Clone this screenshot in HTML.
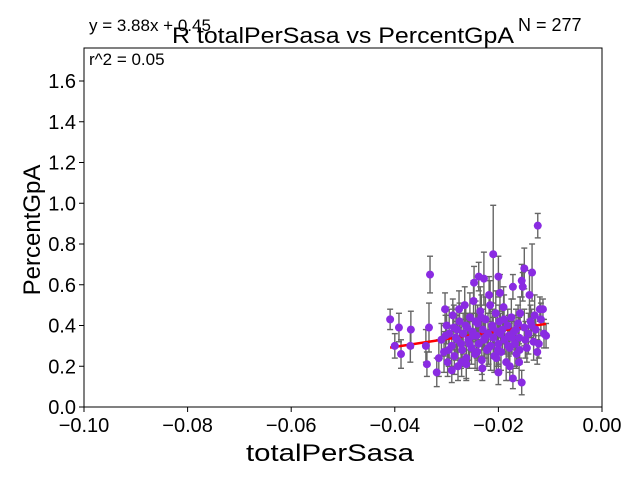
<!DOCTYPE html>
<html><head><meta charset="utf-8"><style>
html,body{margin:0;padding:0;background:#fff;}
svg text{font-family:"Liberation Sans","DejaVu Sans",sans-serif;}
</style></head><body>
<svg id="chart" width="640" height="480" xmlns="http://www.w3.org/2000/svg">
<rect width="640" height="480" fill="#fff"/>
<g id="plot"></g>
<rect x="84" y="48" width="518" height="359" fill="none" stroke="#000" stroke-width="1"/>
<g id="axes"></g>
<text x="343" y="43" font-size="22" text-anchor="middle" textLength="342" lengthAdjust="spacingAndGlyphs">R totalPerSasa vs PercentGpA</text>
<text x="89" y="31" font-size="17">y = 3.88x + 0.45</text>
<text x="89" y="65" font-size="17">r^2 = 0.05</text>
<text x="518" y="31" font-size="18">N = 277</text>
<text x="330" y="461" font-size="24" text-anchor="middle" textLength="168" lengthAdjust="spacingAndGlyphs">totalPerSasa</text>
<text transform="translate(40,230) rotate(-90)" font-size="24" text-anchor="middle">PercentGpA</text>
</svg>
<script>
const xTicks = [-0.10,-0.08,-0.06,-0.04,-0.02,0.00];
const xTickLabels = ["\u22120.10","\u22120.08","\u22120.06","\u22120.04","\u22120.02","0.00"];
const yTicks = [0,0.2,0.4,0.6,0.8,1.0,1.2,1.4,1.6];
const yTickLabels = ["0.0","0.2","0.4","0.6","0.8","1.0","1.2","1.4","1.6"];
const slope = 3.88, intercept = 0.45;
const xs = [-0.0409,-0.0392,-0.0400,-0.0388,-0.0369,-0.0370,-0.0332,-0.0334,-0.0340,-0.0338,-0.0319,-0.0303,-0.0210,-0.0124,-0.0150,-0.0135,-0.0247,-0.0238,-0.0228,-0.0200,-0.0197,-0.0172,-0.0153,-0.0155,-0.0140,-0.0120,-0.0114,-0.0108,-0.0155,-0.0172,-0.0200,-0.0178,-0.0160,
-0.0310,-0.0305,-0.0300,-0.0298,-0.0295,-0.0290,-0.0288,-0.0285,-0.0282,-0.0280,-0.0278,-0.0275,-0.0272,-0.0270,-0.0268,-0.0265,-0.0262,-0.0260,-0.0258,-0.0255,-0.0252,-0.0250,-0.0248,-0.0245,-0.0242,-0.0240,-0.0238,-0.0235,-0.0232,-0.0230,-0.0228,-0.0225,-0.0222,-0.0220,-0.0218,-0.0215,-0.0212,-0.0210,-0.0208,-0.0205,-0.0202,-0.0200,-0.0198,-0.0195,-0.0192,-0.0190,-0.0188,-0.0185,-0.0182,-0.0180,-0.0178,-0.0175,-0.0170,-0.0168,-0.0165,-0.0162,-0.0160,-0.0158,-0.0150,-0.0145,-0.0142,-0.0138,-0.0132,-0.0128,-0.0125,-0.0118,-0.0112,
-0.0315,-0.0302,-0.0296,-0.0286,-0.0279,-0.0271,-0.0263,-0.0256,-0.0249,-0.0241,-0.0233,-0.0226,-0.0219,-0.0211,-0.0204,-0.0196,-0.0189,-0.0181,-0.0174,-0.0166,-0.0159,-0.0148,-0.0136,-0.0130,-0.0122,-0.0290,-0.0276,-0.0262,-0.0244,-0.0231,-0.0216,-0.0201];
const ys = [0.43,0.39,0.30,0.26,0.38,0.30,0.65,0.39,0.30,0.21,0.17,0.48,0.75,0.89,0.68,0.66,0.61,0.64,0.63,0.64,0.56,0.59,0.59,0.62,0.55,0.48,0.48,0.35,0.12,0.14,0.17,0.20,0.22,
0.33,0.27,0.40,0.22,0.36,0.30,0.45,0.25,0.34,0.38,0.20,0.42,0.31,0.28,0.36,0.50,0.24,0.39,0.33,0.44,0.29,0.37,0.52,0.26,0.35,0.41,0.31,0.47,0.23,0.38,0.33,0.43,0.28,0.36,0.55,0.30,0.40,0.34,0.25,0.46,0.37,0.31,0.42,0.27,0.38,0.49,0.33,0.22,0.40,0.35,0.29,0.44,0.37,0.31,0.26,0.41,0.34,0.46,0.39,0.29,0.36,0.42,0.32,0.38,0.27,0.43,0.36,
0.24,0.35,0.28,0.39,0.33,0.22,0.40,0.31,0.35,0.27,0.44,0.34,0.29,0.39,0.24,0.36,0.43,0.30,0.34,0.38,0.28,0.33,0.40,0.45,0.31,0.18,0.48,0.21,0.42,0.19,0.50,0.28];
const errs = [0.05,0.07,0.06,0.07,0.09,0.08,0.09,0.12,0.08,0.06,0.07,0.08,0.24,0.06,0.10,0.14,0.08,0.07,0.13,0.10,0.09,0.06,0.07,0.08,0.12,0.06,0.05,0.06,0.06,0.05,0.06,0.07,0.09,
0.08,0.10,0.09,0.07,0.12,0.10,0.08,0.09,0.11,0.10,0.07,0.09,0.12,0.08,0.10,0.09,0.11,0.07,0.10,0.12,0.08,0.09,0.10,0.07,0.11,0.09,0.08,0.12,0.07,0.10,0.09,0.11,0.08,0.10,0.09,0.12,0.07,0.10,0.08,0.11,0.09,0.10,0.08,0.09,0.11,0.10,0.07,0.09,0.08,0.10,0.12,0.09,0.08,0.11,0.07,0.09,0.10,0.08,0.09,0.07,0.10,0.08,0.09,0.07,0.06,0.08,0.07,
0.09,0.10,0.08,0.11,0.09,0.07,0.10,0.12,0.08,0.09,0.11,0.10,0.08,0.09,0.07,0.10,0.12,0.09,0.08,0.10,0.07,0.09,0.08,0.10,0.07,0.06,0.09,0.07,0.10,0.06,0.12,0.08];
const NS="http://www.w3.org/2000/svg";
const X0=84,X1=602,Y0=407,PXY=203.75;
function xPx(v){return X0+(v-(-0.1))/0.1*(X1-X0);}
function yPx(v){return Y0-v*PXY;}
function mk(t,a,p){const e=document.createElementNS(NS,t);for(const k in a)e.setAttribute(k,a[k]);p.appendChild(e);return e;}
const plot=document.getElementById('plot'), axes=document.getElementById('axes');
xTicks.forEach((t,i)=>{const x=xPx(t);
 const l=mk('line',{x1:x,x2:x,y1:Y0,y2:Y0+5,stroke:'#000'},axes);
 
 
 const tx=mk('text',{x:x,y:Y0+25,'font-size':20,'text-anchor':'middle'},axes);tx.textContent=xTickLabels[i];
 
 });
yTicks.forEach((t,i)=>{const y=yPx(t);
 const l=mk('line',{x1:X0-5,x2:X0,y1:y,y2:y,stroke:'#000'},axes);
 
 
 const tx=mk('text',{x:X0-8,y:y+7,'font-size':20,'text-anchor':'end'},axes);tx.textContent=yTickLabels[i];
 
 });
xs.forEach((x,i)=>{const px=xPx(x),t=yPx(ys[i]+errs[i]),b=yPx(ys[i]-errs[i]);
 const g=mk('g',{stroke:'#666','stroke-width':1.4},plot);
 
 
 mk('line',{x1:px,x2:px,y1:t,y2:b},g);
 mk('line',{x1:px-3,x2:px+3,y1:t,y2:t},g);
 mk('line',{x1:px-3,x2:px+3,y1:b,y2:b},g);});
const xmin=Math.min(...xs),xmax=Math.max(...xs);
const reg=mk('line',{x1:xPx(xmin),y1:yPx(slope*xmin+intercept),x2:xPx(xmax),y2:yPx(slope*xmax+intercept),stroke:'#f00','stroke-width':2.5},plot);


xs.forEach((x,i)=>{const c=mk('circle',{cx:xPx(x),cy:yPx(ys[i]),r:4,fill:'#8a2be2'},plot);
 
 });
</script>
</body></html>
